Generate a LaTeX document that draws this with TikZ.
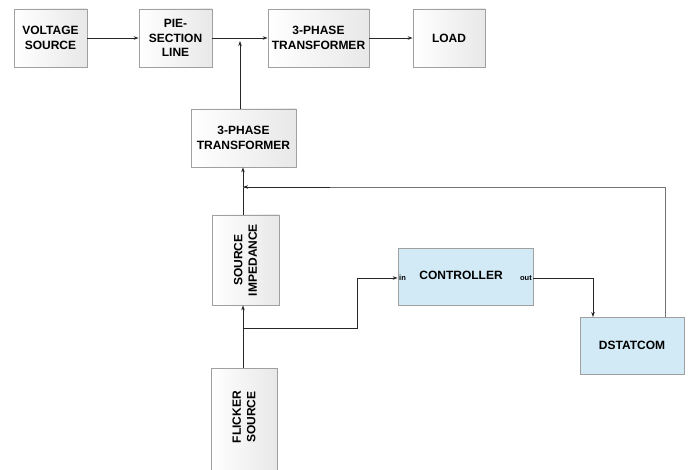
\documentclass[tikz,border=0pt]{standalone}
\usepackage{fontspec}
\setmainfont{Liberation Sans}
\usetikzlibrary{arrows.meta}
\definecolor{boxborder}{RGB}{160,160,160}
\definecolor{greyend}{RGB}{232,232,232}
\definecolor{bluefill}{RGB}{210,234,246}
\begin{document}
\begin{tikzpicture}[x=1pt,y=-1pt,
  lbl/.style={font=\fontsize{12}{14.5}\selectfont\bfseries, align=center},
  greybox/.style={draw=boxborder, line width=0.8pt, left color=white, right color=greyend,
    rectangle, inner sep=0pt, lbl},
  bluebox/.style={draw=boxborder, line width=0.8pt, fill=bluefill,
    rectangle, inner sep=0pt, lbl},
  conn/.style={draw=black!85, line width=0.7pt},
  arr/.style={conn, -{Stealth[length=5pt,width=3.5pt]}},
  fb/.style={draw=black!55, line width=0.8pt},
  port/.style={font=\fontsize{7.5}{8}\selectfont\bfseries, inner sep=1pt}]
\useasboundingbox (0,0) rectangle (693,470);
\fill[white] (0,0) rectangle (693,470);

\node[greybox, minimum width=73pt, minimum height=58pt] (vs) at (50.5,38) {VOLTAGE\\SOURCE};
\node[greybox, minimum width=73pt, minimum height=58pt] (pie) at (175.5,38) {PIE-\\SECTION\\LINE};
\node[greybox, minimum width=101pt, minimum height=58pt] (t1) at (318.5,38) {3-PHASE\\TRANSFORMER};
\node[greybox, minimum width=72pt, minimum height=58pt] (load) at (449,38) {LOAD};
\node[greybox, minimum width=105pt, minimum height=58pt] (t2) at (243.5,138) {3-PHASE\\TRANSFORMER};
\node[greybox, minimum width=67pt, minimum height=90pt] (si) at (245.5,260) {};
\node[lbl, rotate=90] (silab) at (si.center) {SOURCE\\IMPEDANCE};
\node[greybox, minimum width=66pt, minimum height=106pt] (fs) at (244,421) {};
\node[lbl, rotate=90] (fslab) at (244,417) {FLICKER\\SOURCE};
\node[bluebox, minimum width=135pt, minimum height=57pt] (ctrl) at (465.5,276.5) {};
\node[lbl] (ctrllab) at (461,275) {CONTROLLER};
\node[port, anchor=west] (inp) at (398,278) {in};
\node[port, anchor=east] (outp) at (533,278) {out};
\node[bluebox, minimum width=104pt, minimum height=57pt] (dst) at (632,345.5) {DSTATCOM};

\coordinate (j1) at (240,41);
\coordinate (br) at (243,328);
\coordinate (b1) at (357,328);
\coordinate (b2) at (357,278);
\coordinate (o1) at (593,278);
\coordinate (o2) at (593,317);
\coordinate (f1) at (665,187);
\coordinate (f2) at (243,187);

\draw[arr] (vs.east) -- (pie.west);
\draw[arr] (pie.east) -- (t1.west);
\draw[arr] (t1.east) -- (load.west);
\draw[arr] (t2.north -| j1) -- (j1);
\draw[arr] (si.north -| f2) -- (t2.south -| f2);
\draw[arr] (fs.north -| br) -- (si.south -| br);
\draw[arr] (br) -- (b1) -- (b2) -- (ctrl.west |- b2);
\draw[arr] (ctrl.east |- o1) -- (o1) -- (o2);
\draw[fb] (dst.north -| f1) -- (f1) -- (f2);
\draw[arr] (330,187) -- (f2);
\end{tikzpicture}
\end{document}
